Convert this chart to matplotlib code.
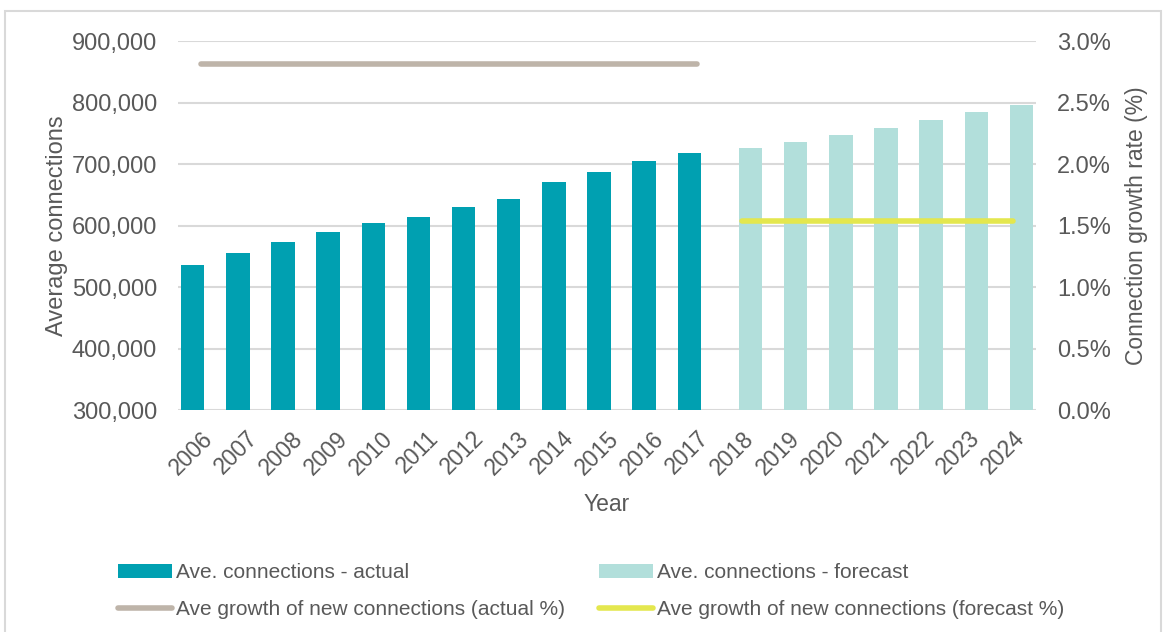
import matplotlib
matplotlib.use('Agg')
import matplotlib.pyplot as plt
import numpy as np
from matplotlib.patches import Rectangle
from matplotlib.ticker import FuncFormatter

plt.rcParams['font.family'] = ['Liberation Sans', 'DejaVu Sans']

#data
years_actual = ['2006', '2007', '2008', '2009', '2010', '2011', '2012', '2013', '2014', '2015', '2016', '2017']
years_forecast = ['2018', '2019', '2020', '2021', '2022', '2023', '2024']
conn_actual = [536000, 556000, 573000, 589000, 605000, 614000, 630000, 643000, 671000, 687000, 705000, 718000]
conn_forecast = [727000, 736000, 747000, 759000, 771000, 784000, 796000]
growth_actual = 2.81
growth_forecast = 1.54

#colors
c_actual = '#00A0B1'
c_forecast = '#B2DFDB'
c_line_actual = '#BEB4A9'
c_line_forecast = '#E4E74E'
c_text = '#595959'
c_grid = '#D9D9D9'

years = years_actual + years_forecast
x_act = np.arange(len(years_actual))
x_fc = np.arange(len(years_actual), len(years))

#excel style clustered bars: actual sits left of the category, forecast right
bw = 0.52
shift = 0.177

fig = plt.figure(figsize=(11.66, 6.32), dpi=100)
ax = fig.add_axes([0.1527, 0.351, 0.7358, 0.584])

b1 = ax.bar(x_act - shift, conn_actual, width=bw, color=c_actual, zorder=2)
b2 = ax.bar(x_fc + shift, conn_forecast, width=bw, color=c_forecast, zorder=2)

ax.set_xlim(-0.5, len(years) - 0.5)
ax.set_ylim(300000, 900000)
ax.set_yticks(np.arange(300000, 900001, 100000))
ax.yaxis.set_major_formatter(FuncFormatter(lambda v, p: f'{int(v):,}'))
ax.set_xticks(np.arange(len(years)))
ax.set_xticklabels(years, rotation=45, ha='right', rotation_mode='anchor')
ax.grid(axis='y', color=c_grid, linewidth=1.5, zorder=0)
ax.set_axisbelow(True)
for s in ax.spines.values():
    s.set_visible(False)
ax.tick_params(length=0, labelcolor=c_text)
ax.tick_params(axis='y', labelsize=17, pad=15)
ax.tick_params(axis='x', labelsize=16.5, pad=12)
ax.set_xlabel('Year', fontsize=16.5, color=c_text, labelpad=10)
ax.set_ylabel('Average connections', fontsize=17, color=c_text, labelpad=3)

#growth lines on the right axis
ax2 = ax.twinx()
l1, = ax2.plot(x_act, [growth_actual] * len(x_act), color=c_line_actual, lw=4, solid_capstyle='round')
l2, = ax2.plot(x_fc, [growth_forecast] * len(x_fc), color=c_line_forecast, lw=4, solid_capstyle='round')
ax2.set_ylim(0, 3.0)
ax2.set_yticks(np.arange(0, 3.01, 0.5))
ax2.yaxis.set_major_formatter(FuncFormatter(lambda v, p: f'{v:.1f}%'))
for s in ax2.spines.values():
    s.set_visible(False)
ax2.tick_params(length=0, labelsize=17, labelcolor=c_text, pad=15)
ax2.set_ylabel('Connection growth rate (%)', fontsize=16.5, color=c_text, labelpad=10)

leg = fig.legend([b1, l1, b2, l2],
                 ['Ave. connections - actual', 'Ave growth of new connections (actual %)',
                  'Ave. connections - forecast', 'Ave growth of new connections (forecast %)'],
                 ncol=2, loc='upper left', bbox_to_anchor=(0.094, 0.122), frameon=False,
                 fontsize=15, handlelength=2.6, handleheight=0.7, columnspacing=1.6,
                 handletextpad=0.2, labelspacing=0.85, borderaxespad=0)
for t in leg.get_texts():
    t.set_color(c_text)

#outer frame
fig.patches.append(Rectangle((0.0043, -0.02), 0.991, 1.0026, transform=fig.transFigure,
                             fill=False, edgecolor='#D9D9D9', linewidth=1.5))

fig.savefig('out.png', dpi=100)
